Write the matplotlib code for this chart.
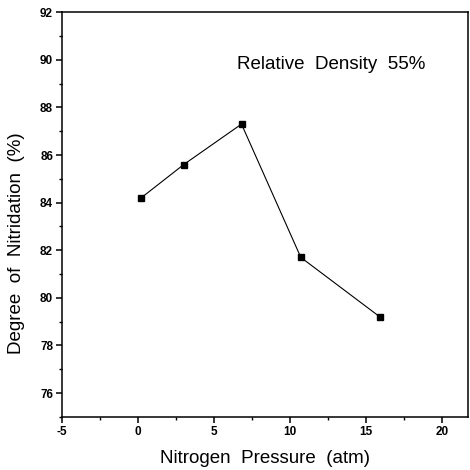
import numpy as np
import matplotlib.pyplot as plt
from matplotlib.ticker import MultipleLocator

plt.rcParams['font.family'] = ['Liberation Sans', 'DejaVu Sans']
plt.rcParams['axes.unicode_minus'] = False

# data
pressure = [0.2, 3.0, 6.8, 10.7, 15.9]
nitridation = [84.2, 85.6, 87.3, 81.7, 79.2]

fig = plt.figure(figsize=(4.7, 4.7), dpi=100)
ax = fig.add_axes([0.132, 0.113, 0.864, 0.861])

ax.plot(pressure, nitridation, color='black', linewidth=0.8,
        marker='s', markersize=4, markerfacecolor='black', markeredgecolor='black')

ax.set_xlim(-5, 21.7)
ax.set_ylim(75, 92)
ax.xaxis.set_major_locator(MultipleLocator(5))
ax.xaxis.set_minor_locator(MultipleLocator(2.5))
ax.yaxis.set_major_locator(MultipleLocator(2))
ax.yaxis.set_minor_locator(MultipleLocator(1))
ax.set_yticks(np.arange(76, 93, 2))

for s in ax.spines.values():
    s.set_linewidth(1.1)

ax.tick_params(which='major', direction='out', length=4, width=1.1, labelsize=8.5, pad=2.5)
ax.tick_params(which='minor', direction='out', length=2.5, width=1)
for lab in ax.get_xticklabels() + ax.get_yticklabels():
    lab.set_fontweight('bold')

ax.set_xlabel('Nitrogen  Pressure  (atm)', fontsize=13.5, labelpad=9)
ax.set_ylabel('Degree  of  Nitridation  (%)', fontsize=13.5)
ax.yaxis.set_label_coords(-0.09, 0.43)

ax.text(6.5, 89.8, 'Relative  Density  55%', fontsize=13.5, ha='left', va='center')

fig.savefig('out.png', dpi=100)
